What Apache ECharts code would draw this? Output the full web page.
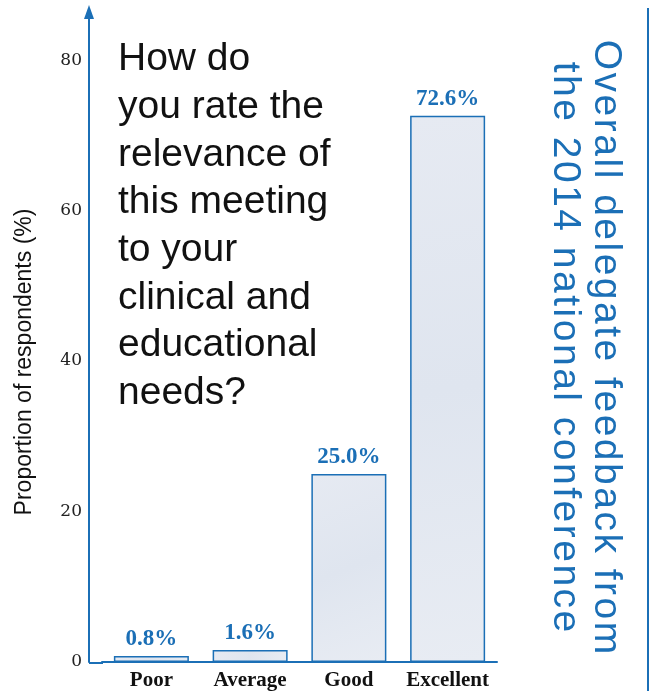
<!DOCTYPE html>
<html><head><meta charset="utf-8">
<script src="https://cdn.jsdelivr.net/npm/echarts@6/dist/echarts.min.js"></script>
<style>html,body{margin:0;padding:0;background:#fff;}#c{width:650px;height:691px;}</style>
</head><body><div id="c"></div>
<script>
const categories = ['Poor', 'Average', 'Good', 'Excellent'];
const values = [0.8, 1.6, 25.0, 72.6];
const yTicks = [0, 20, 40, 60, 80];
const yAxisTitle = 'Proportion of respondents (%)';
const questionLines = ['How do', 'you rate the', 'relevance of', 'this meeting', 'to your', 'clinical and', 'educational', 'needs?'];
const sideTitleLines = ['Overall delegate feedback from', 'the 2014 national conference'];

const blue = '#1b6fb6';
const chart = echarts.init(document.getElementById('c'), null, {renderer: 'canvas'});

const mctx = document.createElement('canvas').getContext('2d');
// vertical text reading top-to-bottom, with letter spacing, centred at (cx, cy)
function spacedDown(text, cx, cy, font, spacing, color) {
  mctx.font = font;
  const ws = [...text].map(ch => mctx.measureText(ch).width);
  const total = ws.reduce((a, b) => a + b, 0) + spacing * (ws.length - 1);
  let pos = cy - total / 2;
  const out = [];
  [...text].forEach((ch, i) => {
    if (ch !== ' ') out.push({type: 'text', x: cx, y: pos, rotation: -Math.PI / 2,
      style: {text: ch, fill: color, font: font, align: 'left', verticalAlign: 'middle'}});
    pos += ws[i] + spacing;
  });
  return out;
}

const graphics = [];
questionLines.forEach((t, i) => {
  graphics.push({type: 'text', left: 118, top: 40 + i * 47.7,
    style: {text: t, fill: '#111', font: '39px "Liberation Sans", Arial, sans-serif'}});
});
sideTitleLines.forEach((t, i) => {
  graphics.push(...spacedDown(t, [606, 565][i], 347, '39px "Liberation Sans", sans-serif', 2.5, blue));
});
graphics.push({type: 'text', x: 25, y: 362, rotation: Math.PI / 2,
  style: {text: yAxisTitle, fill: '#111', font: '23px "Liberation Sans", sans-serif', align: 'center', verticalAlign: 'middle'}});
graphics.push({type: 'line', shape: {x1: 648, y1: 8, x2: 648, y2: 691}, style: {stroke: blue, lineWidth: 2}});
graphics.push({type: 'line', shape: {x1: 89, y1: 663, x2: 103, y2: 663}, style: {stroke: blue, lineWidth: 2}});

chart.setOption({
  animation: false,
  grid: {left: 102, right: 153, top: 12, bottom: 28},
  xAxis: {type: 'category', data: categories,
    axisLine: {lineStyle: {color: blue, width: 2}},
    axisTick: {show: false},
    axisLabel: {interval: 0, color: '#111', fontFamily: '"Liberation Serif", serif', fontWeight: 'bold', fontSize: 21, margin: 8}},
  yAxis: {type: 'value', min: 0, max: 86.4, interval: 20, offset: 13,
    axisLine: {show: true, lineStyle: {color: blue, width: 2}, symbol: ['none', 'triangle'], symbolSize: [10, 14], symbolOffset: [0, 0]},
    axisTick: {show: false},
    splitLine: {show: false},
    axisLabel: {color: '#222', fontFamily: '"DejaVu Serif", serif', fontSize: 17, margin: 7, showMaxLabel: false,
      formatter: v => yTicks.indexOf(v) >= 0 ? String(v) : ''}},
  series: [{type: 'bar', data: values, barWidth: 75,
    itemStyle: {color: new echarts.graphic.LinearGradient(0, 0, 1, 1, [{offset: 0, color: '#e6eaf2'}, {offset: 0.5, color: '#dfe5ef'}, {offset: 1, color: '#e8ecf3'}]),
      borderColor: blue, borderWidth: 1.5},
    label: {show: true, position: 'top', distance: 5, formatter: p => p.value.toFixed(1) + '%',
      color: blue, fontFamily: '"Liberation Serif", serif', fontWeight: 'bold', fontSize: 23}}],
  graphic: graphics
});
</script></body></html>
